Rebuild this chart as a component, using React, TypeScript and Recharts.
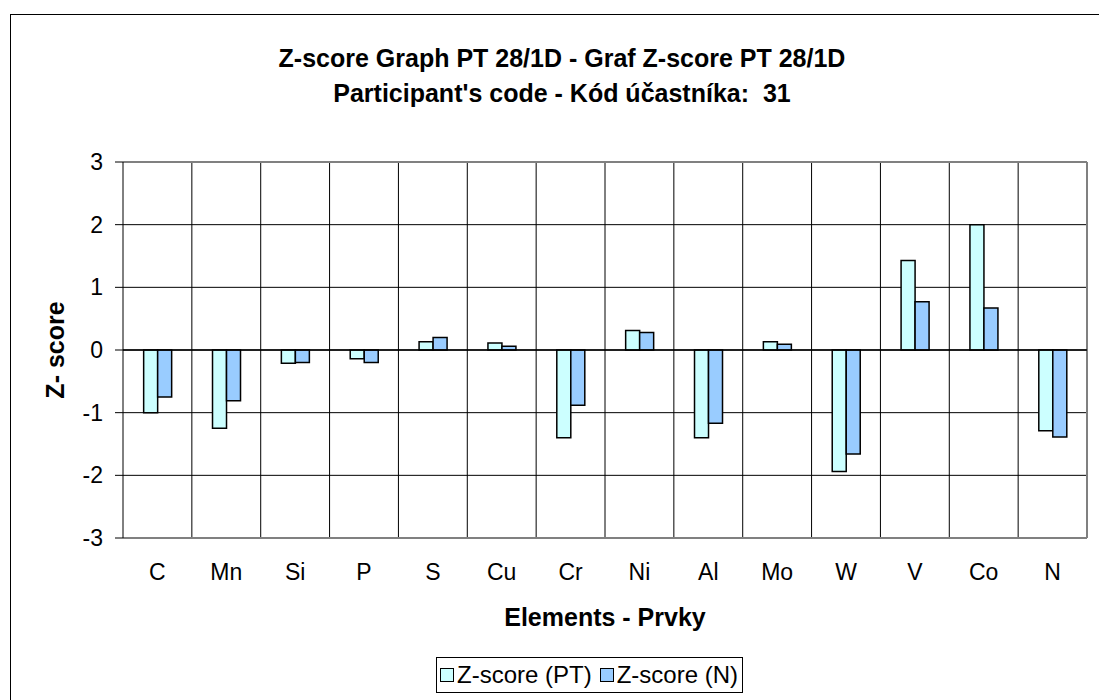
import React from "react";
import {
    BarChart,
    Bar,
    XAxis,
    YAxis,
    CartesianGrid,
    Legend,
    Label,
    ReferenceLine,
} from "recharts";

const elements = ["C", "Mn", "Si", "P", "S", "Cu", "Cr", "Ni", "Al", "Mo", "W", "V", "Co", "N"];
const zPT = [-1.0, -1.25, -0.21, -0.14, 0.13, 0.11, -1.4, 0.31, -1.4, 0.13, -1.94, 1.43, 2.0, -1.29];
const zN = [-0.75, -0.81, -0.2, -0.2, 0.2, 0.06, -0.88, 0.28, -1.17, 0.09, -1.66, 0.77, 0.67, -1.39];
const yTicks = [-3, -2, -1, 0, 1, 2, 3];

const data = elements.map((el, i) => ({ name: el, pt: zPT[i], n: zN[i] }));

const FONT = "'Liberation Sans', Arial, sans-serif";

const Swatch = ({ color }: { color: string }) => (
    <span
        style={{
            display: "inline-block",
            width: 12,
            height: 12,
            border: "1px solid #000",
            background: color,
            marginRight: 3,
        }}
    />
);

const LegendBox = () => (
    <div
        style={{
            border: "1px solid #000",
            display: "inline-flex",
            alignItems: "center",
            height: 34,
            padding: "0 4px 0 3px",
            fontFamily: FONT,
            fontSize: 24,
            color: "#000",
            background: "#fff",
            whiteSpace: "nowrap",
        }}
    >
        <Swatch color="#CCFFFF" />
        <span style={{ marginRight: 8 }}>Z-score (PT)</span>
        <Swatch color="#99CCFF" />
        <span>Z-score (N)</span>
    </div>
);

export default function App() {
    return (
        <div
            style={{
                position: "absolute",
                left: 0,
                top: 0,
                width: 1099,
                height: 700,
                overflow: "hidden",
                background: "#fff",
            }}
        >
            <div
                style={{
                    position: "absolute",
                    left: 10,
                    top: 14,
                    width: 1200,
                    height: 800,
                    border: "1px solid #000",
                }}
            />
            <div
                style={{
                    position: "absolute",
                    left: 0,
                    width: 1124,
                    top: 41,
                    textAlign: "center",
                    fontFamily: FONT,
                    fontWeight: "bold",
                    fontSize: 25,
                    lineHeight: "35px",
                    color: "#000",
                    zIndex: 2,
                }}
            >
                <div>Z-score Graph PT 28/1D - Graf Z-score PT 28/1D</div>
                <div>Participant's code - Kód účastníka:&nbsp; 31</div>
            </div>
            <BarChart
                width={1099}
                height={700}
                data={data}
                margin={{ top: 162, right: 12, left: 33, bottom: 7 }}
                barCategoryGap="30%"
                barGap={0}
                style={{ fontFamily: FONT }}
            >
                <CartesianGrid
                    stroke="#000"
                    strokeWidth={1}
                    verticalCoordinatesGenerator={({ offset }: any) =>
                        elements.slice(1).map((_, i) => offset.left + (offset.width * (i + 1)) / elements.length)
                    }
                />
                {/* plot area border, top and right */}
                <CartesianGrid
                    stroke="#808080"
                    strokeWidth={2}
                    verticalCoordinatesGenerator={({ offset }: any) => [offset.left + offset.width]}
                    horizontalCoordinatesGenerator={({ offset }: any) => [offset.top]}
                />
                <XAxis
                    dataKey="name"
                    height={119}
                    tickSize={0}
                    tickMargin={26}
                    axisLine={{ stroke: "#808080", strokeWidth: 2 }}
                    tick={{ fill: "#000", fontSize: 23 }}
                    interval={0}
                >
                    <Label
                        value="Elements - Prvky"
                        position="insideBottom"
                        offset={31}
                        style={{ fontWeight: "bold", fontSize: 25, fill: "#000" }}
                    />
                </XAxis>
                <YAxis
                    width={90}
                    domain={[-3, 3]}
                    ticks={yTicks}
                    tickSize={8}
                    tickMargin={12}
                    axisLine={{ stroke: "#000" }}
                    tickLine={{ stroke: "#000" }}
                    tick={{ fill: "#000", fontSize: 23 }}
                >
                    <Label
                        value="Z- score"
                        angle={-90}
                        position="insideLeft"
                        offset={22}
                        style={{ fontWeight: "bold", fontSize: 25, fill: "#000", textAnchor: "middle" }}
                    />
                </YAxis>
                <ReferenceLine y={0} stroke="#000" strokeWidth={1.5} />
                <Bar dataKey="pt" name="Z-score (PT)" fill="#CCFFFF" stroke="#000" strokeWidth={1.5} isAnimationActive={false} />
                <Bar dataKey="n" name="Z-score (N)" fill="#99CCFF" stroke="#000" strokeWidth={1.5} isAnimationActive={false} />
                <Legend
                    verticalAlign="bottom"
                    content={() => <LegendBox />}
                    wrapperStyle={{ left: 436, width: "auto", bottom: 7 }}
                />
            </BarChart>
        </div>
    );
}
